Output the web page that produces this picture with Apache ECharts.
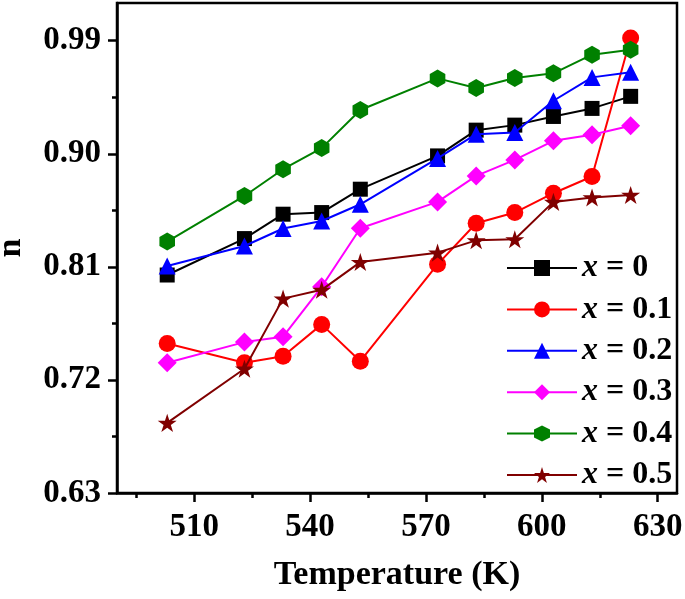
<!DOCTYPE html>
<html>
<head>
<meta charset="utf-8">
<script src="https://cdn.jsdelivr.net/npm/echarts@6/dist/echarts.min.js"></script>
<style>
html,body{margin:0;padding:0;background:#fff;}
#chart{width:685px;height:599px;}
</style>
</head>
<body>
<div id="chart"></div>
<script>
// ---- data ----
var temperatures = [503, 523, 533, 543, 553, 573, 583, 593, 603, 613, 623];
var seriesNames = ['0', '0.1', '0.2', '0.3', '0.4', '0.5'];
var n_x0  = [0.8035, 0.8325, 0.8519, 0.8532, 0.8718, 0.8983, 0.9188, 0.9228, 0.9297, 0.9361, 0.9457];
var n_x01 = [0.7490, 0.7336, 0.7389, 0.7642, 0.7349, 0.8120, 0.8447, 0.8532, 0.8686, 0.8819, 0.9922];
var n_x02 = [0.8106, 0.8266, 0.8405, 0.8465, 0.8598, 0.8963, 0.9156, 0.9170, 0.9422, 0.9608, 0.9648];
var n_x03 = [0.7336, 0.7501, 0.7544, 0.7941, 0.8407, 0.8617, 0.8824, 0.8951, 0.9103, 0.9151, 0.9223];
var n_x04 = [0.8301, 0.8664, 0.8877, 0.9045, 0.9348, 0.9600, 0.9523, 0.9603, 0.9640, 0.9789, 0.9828];
var n_x05 = [0.6858, 0.7289, 0.7847, 0.7917, 0.8138, 0.8213, 0.8311, 0.8319, 0.8617, 0.8652, 0.8672];
var xMajorTicks = [510, 540, 570, 600, 630];
var xMinorTicks = [495, 525, 555, 585, 615];
var yMajorTicks = [0.63, 0.72, 0.81, 0.90, 0.99];
var yMinorTicks = [0.675, 0.765, 0.855, 0.945];

// ---- styling ----
var FONT = '"Liberation Serif", "Times New Roman", serif';
var colors = ['#000000', '#ff0000', '#0000ff', '#ff00ff', '#008000', '#800000'];
var hexagon = 'path://M0,-1L0.866,-0.5L0.866,0.5L0,1L-0.866,0.5L-0.866,-0.5Z';
var star = 'path://M0,-1L0.2245,-0.309L0.9511,-0.309L0.3633,0.118L0.5878,0.809L0,0.382L-0.5878,0.809L-0.3633,0.118L-0.9511,-0.309L-0.2245,-0.309Z';
var symbols = ['rect', 'circle', 'triangle', 'diamond', hexagon, star];
var symbolSizes = [15, 17, 17, 19, 18, 19];
var allValues = [n_x0, n_x01, n_x02, n_x03, n_x04, n_x05];

var series = allValues.map(function (vals, i) {
  return {
    name: 'x = ' + seriesNames[i],
    type: 'line',
    data: temperatures.map(function (t, k) { return [t, vals[k]]; }),
    symbol: symbols[i],
    symbolSize: symbolSizes[i],
    symbolKeepAspect: true,
    showAllSymbol: true,
    lineStyle: { color: colors[i], width: 2 },
    itemStyle: { color: colors[i] },
    emphasis: { disabled: true },
    animation: false,
    z: 2 + i
  };
});

var chart = echarts.init(document.getElementById('chart'), null, { renderer: 'canvas' });
var axisLineStyle = { color: '#000', width: 2.5 };
chart.setOption({
  backgroundColor: '#ffffff',
  animation: false,
  grid: {
    left: 117, right: 8, top: 3, bottom: 106,
    outerBoundsMode: 'none',
    containLabel: false,
    show: true, borderColor: '#000', borderWidth: 2.5, backgroundColor: 'transparent'
  },
  legend: {
    orient: 'vertical',
    left: 506,
    top: 252,
    padding: 0,
    itemWidth: 70,
    itemHeight: 20,
    itemGap: 9.4,
    selectedMode: false,
    formatter: function (name) {
      return '{i|x}{n|' + name.substring(1) + '}';
    },
    textStyle: {
      rich: {
        i: { fontFamily: FONT, fontStyle: 'italic', fontWeight: 'bold', fontSize: 32, color: '#000' },
        n: { fontFamily: FONT, fontWeight: 'bold', fontSize: 32, color: '#000' }
      }
    },
    data: seriesNames.map(function (s) { return 'x = ' + s; })
  },
  xAxis: [{
    type: 'value',
    min: 490, max: 635,
    name: 'Temperature (K)',
    nameLocation: 'middle',
    nameGap: 65,
    nameTextStyle: { fontFamily: FONT, fontWeight: 'bold', fontSize: 34, color: '#000' },
    axisLine: { show: true, lineStyle: axisLineStyle },
    axisTick: { show: true, length: 9, lineStyle: axisLineStyle, customValues: xMajorTicks },
    axisLabel: { customValues: xMajorTicks, margin: 18, fontFamily: FONT, fontWeight: 'bold', fontSize: 33, color: '#000' },
    splitLine: { show: false }
  }, {
    type: 'value',
    min: 490, max: 635,
    position: 'bottom',
    axisLine: { show: false },
    axisTick: { show: true, length: 5, lineStyle: axisLineStyle, customValues: xMinorTicks },
    axisLabel: { show: false },
    splitLine: { show: false }
  }],
  yAxis: [{
    type: 'value',
    min: 0.63, max: 1.02,
    name: 'n',
    nameLocation: 'middle',
    nameGap: 89,
    nameTextStyle: { fontFamily: FONT, fontWeight: 'bold', fontSize: 34, color: '#000' },
    axisLine: { show: true, lineStyle: axisLineStyle },
    axisTick: { show: true, length: 9, lineStyle: axisLineStyle, customValues: yMajorTicks },
    axisLabel: {
      customValues: yMajorTicks, margin: 16,
      formatter: function (v) { return v.toFixed(2); },
      fontFamily: FONT, fontWeight: 'bold', fontSize: 33, color: '#000'
    },
    splitLine: { show: false }
  }, {
    type: 'value',
    min: 0.63, max: 1.02,
    position: 'left',
    axisLine: { show: false },
    axisTick: { show: true, length: 5, lineStyle: axisLineStyle, customValues: yMinorTicks },
    axisLabel: { show: false },
    splitLine: { show: false }
  }],
  series: series
});
</script>
</body>
</html>
